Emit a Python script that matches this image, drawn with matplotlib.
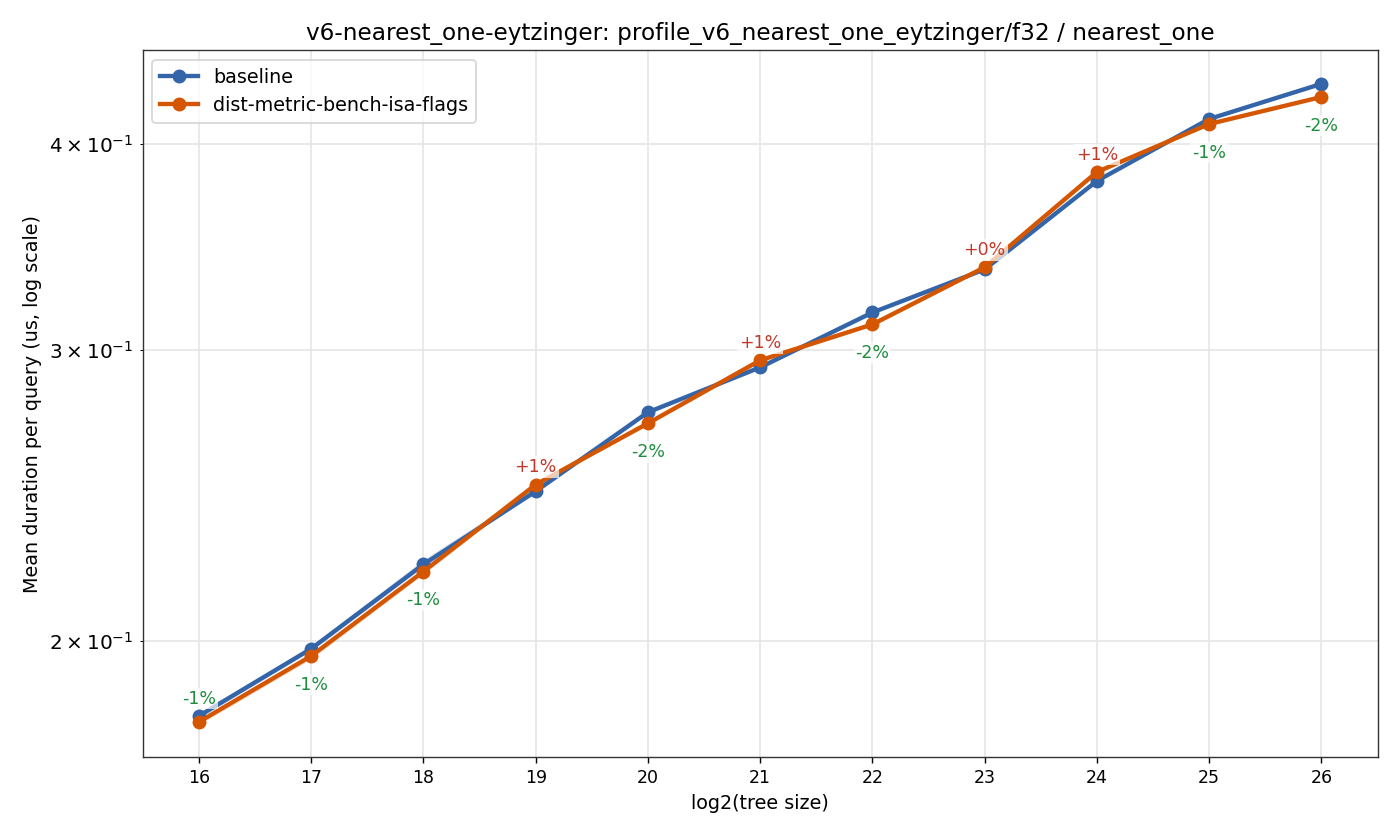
import matplotlib
matplotlib.use("Agg")
import matplotlib.pyplot as plt

# data
sizes = [16, 17, 18, 19, 20, 21, 22, 23, 24, 25, 26]
baseline = [0.1801, 0.1978, 0.2225, 0.2464, 0.2751, 0.2929, 0.3162, 0.3358, 0.3799, 0.4142, 0.4350]
candidate = [0.1786, 0.1958, 0.2203, 0.2487, 0.2709, 0.2958, 0.3110, 0.3368, 0.3847, 0.4113, 0.4271]
# spread (min / max across runs), roughly
baseline_lo = [0.1795, 0.1972, 0.2218, 0.2458, 0.2745, 0.2922, 0.3155, 0.3350, 0.3790, 0.4134, 0.4342]
baseline_hi = [0.1808, 0.1986, 0.2240, 0.2478, 0.2760, 0.2937, 0.3170, 0.3366, 0.3808, 0.4150, 0.4358]
candidate_lo = [0.1779, 0.1950, 0.2195, 0.2480, 0.2702, 0.2950, 0.3102, 0.3360, 0.3838, 0.4105, 0.4263]
candidate_hi = [0.1793, 0.1966, 0.2211, 0.2494, 0.2716, 0.2966, 0.3118, 0.3376, 0.3856, 0.4121, 0.4279]

blue = "#3465a8"
orange = "#d55600"

fig, ax = plt.subplots(figsize=(11.2, 6.72), dpi=125)

ax.fill_between(sizes, baseline_lo, baseline_hi, color=blue, alpha=0.2, linewidth=0)
ax.fill_between(sizes, candidate_lo, candidate_hi, color=orange, alpha=0.2, linewidth=0)
ax.plot(sizes, baseline, color=blue, lw=2.5, marker="o", ms=7, label="baseline")
ax.plot(sizes, candidate, color=orange, lw=2.5, marker="o", ms=7, label="dist-metric-bench-isa-flags")

ax.set_yscale("log")
ax.set_xticks(sizes)
ax.tick_params(axis="y", which="both", labelsize=11.5)

# percentage change labels
for i, x in enumerate(sizes):
    pct = (candidate[i] / baseline[i] - 1) * 100
    txt = "%+.0f%%" % pct
    if pct > 0:
        col = "#c0392b"
        y, dy = max(baseline[i], candidate[i]), 10
    else:
        col = "#1e8e3e"
        y, dy = min(baseline[i], candidate[i]), -16.5
        if i == 0:
            # no room below the first point
            y, dy = max(baseline[i], candidate[i]), 10
    ax.annotate(txt, (x, y), xytext=(0, dy), textcoords="offset points",
                ha="center", va="center", fontsize=10, color=col,
                bbox=dict(boxstyle="square,pad=0.1", fc="white", ec="none", alpha=0.7))

ax.grid(True, which="both", color="#e6e6e6", linewidth=1)
ax.set_axisbelow(True)
for s in ax.spines.values():
    s.set_color("#333333")

ax.set_title("v6-nearest_one-eytzinger: profile_v6_nearest_one_eytzinger/f32 / nearest_one", fontsize=13.3)
ax.set_xlabel("log2(tree size)", fontsize=11)
ax.set_ylabel("Mean duration per query (us, log scale)", fontsize=11)
ax.legend(loc="upper left", fontsize=11)

plt.subplots_adjust(left=0.102, right=0.984, bottom=0.099, top=0.94)
plt.savefig("out.png")
